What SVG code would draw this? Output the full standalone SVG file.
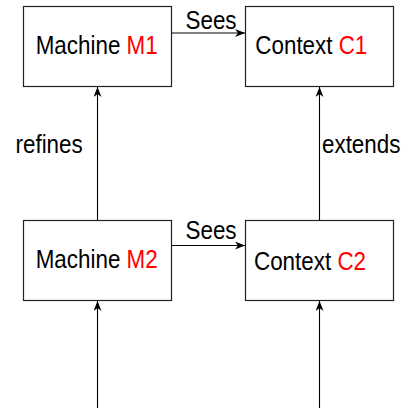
<svg xmlns="http://www.w3.org/2000/svg" width="404" height="410" viewBox="0 0 404 410">
  <style>
    .box { fill: #ffffff; stroke: #222222; stroke-width: 1.2; }
    .edge { fill: none; stroke: #000000; stroke-width: 1.1; marker-end: url(#head); }
    text { font-family: "Liberation Sans", Arial, sans-serif; font-size: 22.4px; fill: #000000; }
    .id { fill: #ff0000; }
  </style>
  <defs>
    <marker id="head" viewBox="0 0 10 8" refX="10" refY="4" markerWidth="10" markerHeight="8" markerUnits="userSpaceOnUse" orient="auto">
      <path d="M0,0 L10,4 L0,8 L3,4 Z" fill="#000000"/>
    </marker>
  </defs>
  <rect width="404" height="410" fill="#ffffff"/>

  <g id="connectors">
    <line class="edge" x1="171.5" y1="33" x2="245" y2="33"/>
    <line class="edge" x1="171.5" y1="245.5" x2="245" y2="245.5"/>
    <line class="edge" x1="97.5" y1="220.5" x2="97.5" y2="87"/>
    <line class="edge" x1="319.5" y1="220.5" x2="319.5" y2="87"/>
    <line class="edge" x1="97.5" y1="408" x2="97.5" y2="301"/>
    <line class="edge" x1="319.5" y1="408" x2="319.5" y2="301"/>
    <text transform="translate(185.5,29.3) scale(1,1.16)">Sees</text>
    <text transform="translate(185.5,239.3) scale(1,1.16)">Sees</text>
    <text transform="translate(15.5,152.7) scale(1,1.16)">refines</text>
    <text transform="translate(322,152.7) scale(1,1.16)">extends</text>
  </g>

  <g id="machine-m1">
    <rect class="box" x="23.5" y="6.5" width="148" height="80"/>
    <text transform="translate(35.7,54.3) scale(1,1.16)">Machine <tspan class="id">M1</tspan></text>
  </g>
  <g id="context-c1">
    <rect class="box" x="245.5" y="6.5" width="148" height="80"/>
    <text transform="translate(255.3,54.3) scale(1,1.16)">Context <tspan class="id">C1</tspan></text>
  </g>
  <g id="machine-m2">
    <rect class="box" x="23.5" y="220.5" width="148" height="80"/>
    <text transform="translate(35.7,268.3) scale(1,1.16)">Machine <tspan class="id">M2</tspan></text>
  </g>
  <g id="context-c2">
    <rect class="box" x="245.5" y="220.5" width="148" height="80"/>
    <text transform="translate(254,270) scale(1,1.16)">Context <tspan class="id">C2</tspan></text>
  </g>
</svg>
